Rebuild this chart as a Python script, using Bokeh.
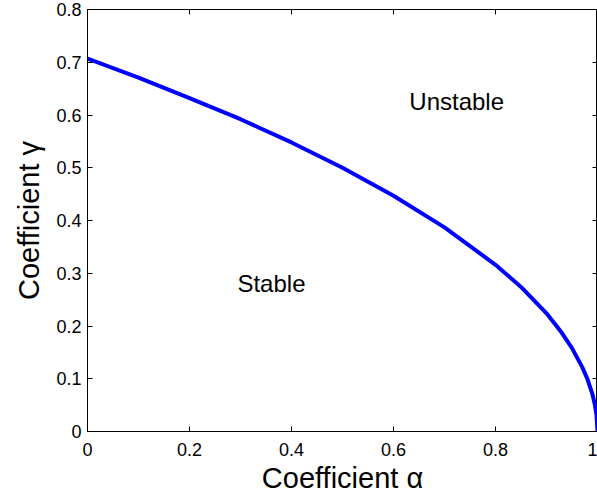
from bokeh.plotting import figure
from bokeh.models import LinearAxis, FixedTicker, Range1d, Label
from bokeh.embed import file_html
from bokeh.resources import INLINE

# curve values
alpha = [0.0, 0.1, 0.2, 0.3, 0.4, 0.5, 0.6, 0.7, 0.8, 0.85, 0.9, 0.93, 0.95,
         0.97, 0.98, 0.99, 0.995, 0.998, 1.0]
gamma = [0.707, 0.671, 0.632, 0.592, 0.548, 0.5, 0.447, 0.387, 0.316, 0.274,
         0.224, 0.187, 0.158, 0.122, 0.1, 0.071, 0.05, 0.032, 0.0]

x_ticks = [0, 0.2, 0.4, 0.6, 0.8, 1.0]
x_tick_labels = ["0", "0.2", "0.4", "0.6", "0.8", "1"]
y_ticks = [0, 0.1, 0.2, 0.3, 0.4, 0.5, 0.6, 0.7, 0.8]
y_tick_labels = ["0", "0.1", "0.2", "0.3", "0.4", "0.5", "0.6", "0.7", "0.8"]

region_names = ["Stable", "Unstable"]
region_x = [0.294, 0.631]
region_y = [0.280, 0.626]

FONT = "Liberation Sans"

p = figure(width=597, height=497, output_backend="svg", toolbar_location=None,
           x_range=Range1d(0, 1), y_range=Range1d(0, 0.8),
           min_border_left=87, min_border_right=0, min_border_top=9,
           min_border_bottom=66)
p.grid.visible = False
p.outline_line_color = "black"
p.outline_line_width = 1
p.background_fill_color = "white"
p.border_fill_color = "white"

p.line(alpha, gamma, line_color="#0000ff", line_width=4)

for ax, ticks, labels in ((p.xaxis[0], x_ticks, x_tick_labels), (p.yaxis[0], y_ticks, y_tick_labels)):
    ax.ticker = FixedTicker(ticks=ticks)
    ax.major_label_overrides = {t: l for t, l in zip(ticks, labels)}
    ax.minor_tick_line_color = None
    ax.major_tick_in = 5
    ax.major_tick_out = 0
    ax.axis_line_color = "black"
    ax.major_tick_line_color = "black"
    ax.major_label_text_font = FONT
    ax.major_label_text_font_size = "18px"
    ax.major_label_text_color = "black"
    ax.axis_label_text_font = FONT
    ax.axis_label_text_font_size = "29px"
    ax.axis_label_text_font_style = "normal"
    ax.axis_label_text_color = "black"

p.xaxis[0].axis_label = "Coefficient α"
p.yaxis[0].axis_label = "Coefficient γ"
p.xaxis[0].major_label_standoff = 11
p.yaxis[0].major_label_standoff = 6
p.xaxis[0].axis_label_standoff = 3
p.yaxis[0].axis_label_standoff = 8

for loc, ticks in (("above", x_ticks), ("right", y_ticks)):
    ax = LinearAxis(ticker=FixedTicker(ticks=ticks))
    ax.major_label_text_font_size = "1px"
    ax.major_label_text_color = None
    ax.major_label_standoff = 0
    ax.major_tick_in = 5
    ax.major_tick_out = 0
    ax.minor_tick_line_color = None
    ax.axis_line_color = "black"
    p.add_layout(ax, loc)

for name, xx, yy in zip(region_names, region_x, region_y):
    p.add_layout(Label(x=xx, y=yy, text=name, text_font=FONT, text_font_size="24px",
                       text_baseline="alphabetic", text_align="left", text_color="black"))

open("out.html", "w").write(file_html(p, INLINE))
